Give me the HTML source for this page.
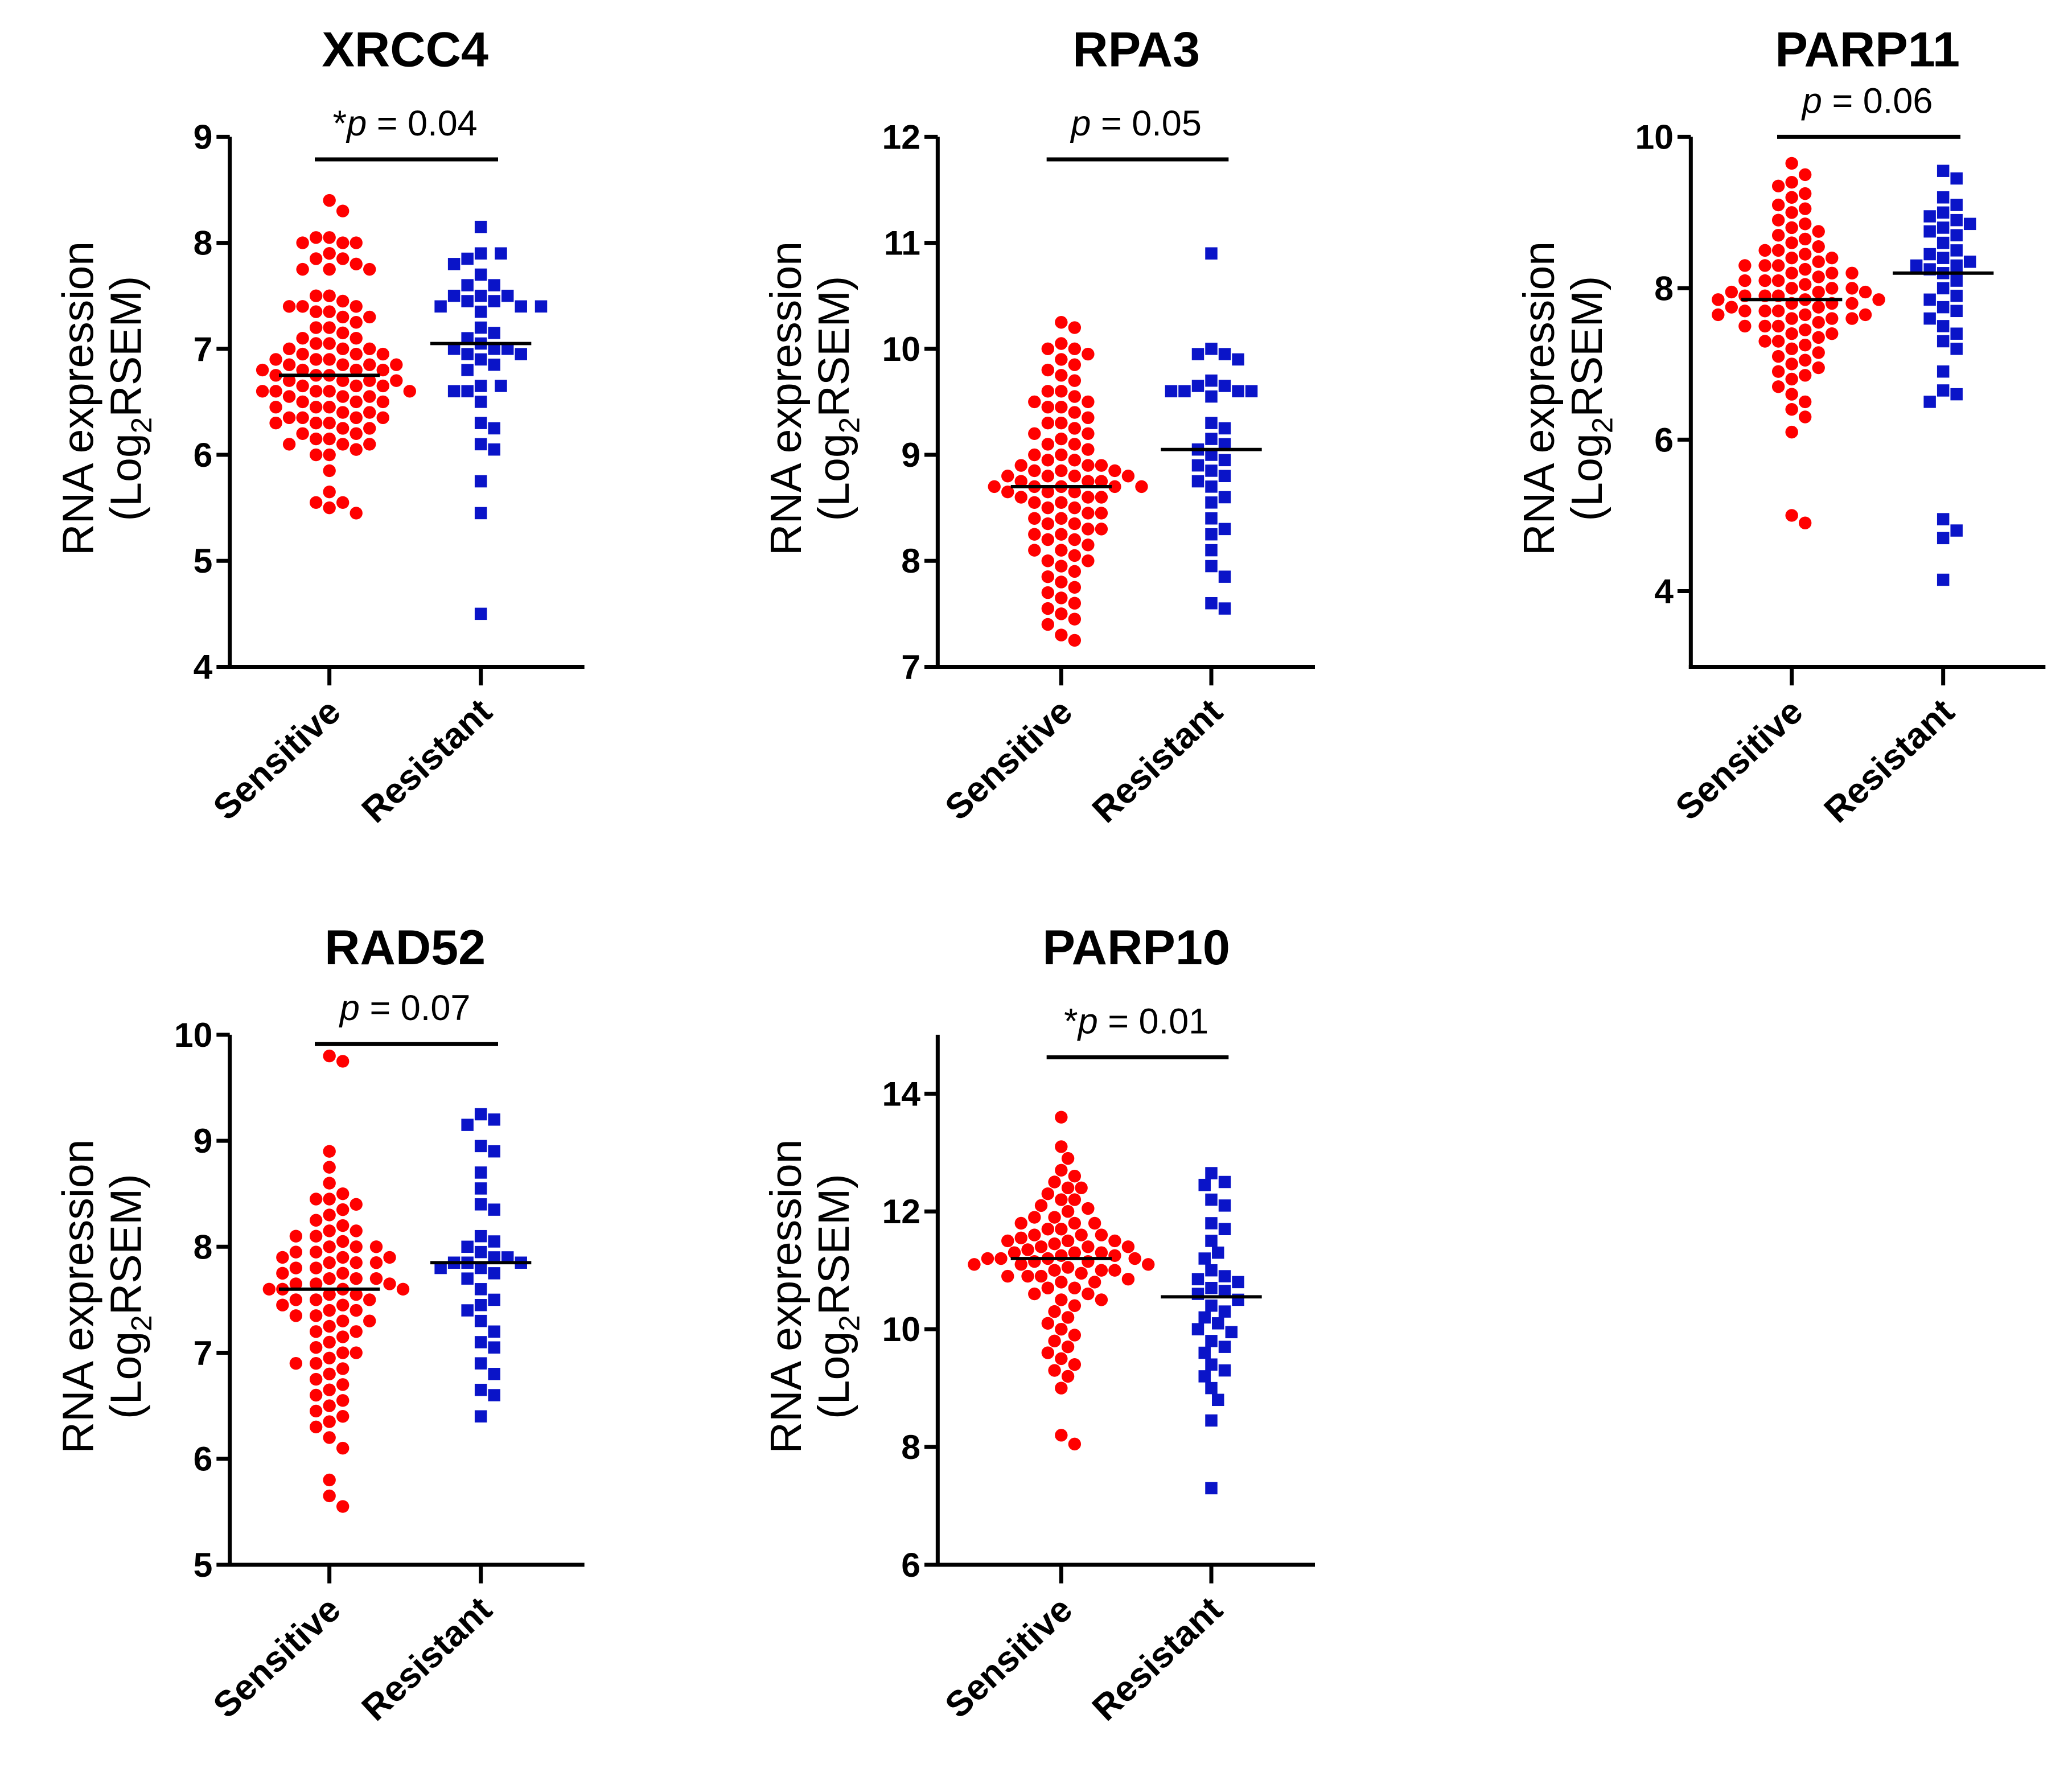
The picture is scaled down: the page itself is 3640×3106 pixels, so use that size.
<!DOCTYPE html>
<html><head><meta charset="utf-8"><style>
html,body{margin:0;padding:0;background:#fff;}
svg{display:block;}
text{font-family:"Liberation Sans",Arial,sans-serif;fill:#000;}
</style></head><body>
<svg id="fig" width="3640" height="3106" viewBox="0 0 1560 1331" preserveAspectRatio="none" xmlns="http://www.w3.org/2000/svg"></svg>
<script>
const xrcc4S=[8.4,8.3,8.05,8.05,8.0,8.0,8.0,7.9,7.85,7.85,7.8,7.75,7.75,7.75,7.5,7.5,7.45,7.4,7.4,7.4,7.35,7.35,7.3,7.3,7.25,7.2,7.2,7.15,7.1,7.1,7.05,7.0,7.0,6.95,6.95,6.9,6.9,6.85,6.85,6.85,6.8,6.8,6.8,6.8,6.75,6.75,6.7,6.7,6.7,6.65,6.65,6.6,6.6,6.6,6.6,6.55,6.55,6.5,6.5,6.45,6.45,6.4,6.4,6.35,6.35,6.35,6.35,6.3,6.3,6.3,6.25,6.2,6.2,6.15,6.1,6.1,6.1,6.05,6.0,6.0,5.85,5.65,5.55,5.55,5.5,5.45,6.9,6.75,6.65,6.5,6.45,7.0,6.55,6.25,6.15,6.85,7.05,6.95,6.7,6.6];
const xrcc4R=[8.15,7.9,7.9,7.85,7.8,7.7,7.6,7.6,7.5,7.5,7.5,7.45,7.45,7.4,7.4,7.4,7.35,7.2,7.15,7.1,7.05,7.0,7.0,7.0,6.95,6.95,6.9,6.85,6.8,6.65,6.65,6.6,6.6,6.5,6.3,6.25,6.1,6.05,5.75,5.45,4.5];
const rpa3S=[10.25,10.2,10.05,10.0,10.0,9.95,9.9,9.85,9.8,9.75,9.7,9.6,9.55,9.5,9.5,9.45,9.45,9.4,9.35,9.3,9.3,9.25,9.2,9.15,9.1,9.1,9.05,9.0,9.0,8.95,8.9,8.9,8.85,8.85,8.8,8.8,8.8,8.75,8.75,8.75,8.7,8.7,8.7,8.7,8.65,8.65,8.6,8.6,8.55,8.55,8.5,8.5,8.45,8.4,8.4,8.35,8.3,8.3,8.25,8.2,8.2,8.15,8.1,8.1,8.05,8.0,8.0,7.95,7.9,7.85,7.8,7.75,7.7,7.65,7.6,7.55,7.5,7.45,7.4,7.3,7.25,9.6,9.2,8.95,8.85,8.65,8.6,8.45,8.35,8.25,8.9,8.8,8.7];
const rpa3R=[10.9,10.0,9.95,9.95,9.9,9.7,9.65,9.65,9.6,9.6,9.6,9.6,9.55,9.3,9.25,9.15,9.1,9.05,9.0,8.95,8.9,8.85,8.8,8.75,8.7,8.6,8.55,8.4,8.3,8.25,8.1,7.95,7.85,7.6,7.55];
const parp11S=[9.65,9.5,9.4,9.35,9.25,9.2,9.1,9.05,9.0,8.9,8.85,8.8,8.75,8.7,8.65,8.6,8.55,8.5,8.5,8.45,8.4,8.4,8.35,8.3,8.3,8.25,8.2,8.2,8.15,8.1,8.1,8.05,8.0,8.0,7.95,7.95,7.9,7.9,7.85,7.85,7.8,7.8,7.8,7.75,7.75,7.7,7.7,7.65,7.65,7.6,7.6,7.55,7.5,7.5,7.45,7.4,7.4,7.35,7.3,7.25,7.2,7.15,7.1,7.05,7.0,6.95,6.9,6.85,6.8,6.7,6.6,6.5,6.4,6.3,6.1,5.0,4.9,8.0,7.9,7.7,7.6,8.1,8.3,7.5,7.3,7.85,7.95,8.2,7.65];
const parp11R=[9.55,9.45,9.2,9.1,9.0,8.95,8.9,8.85,8.8,8.75,8.7,8.6,8.5,8.45,8.4,8.35,8.3,8.3,8.25,8.2,8.1,8.0,7.9,7.85,7.75,7.7,7.6,7.5,7.4,7.3,7.2,6.9,6.65,6.6,6.5,4.95,4.8,4.7,4.15];
const rad52S=[9.8,9.75,8.9,8.75,8.6,8.5,8.45,8.45,8.4,8.35,8.3,8.25,8.2,8.15,8.1,8.1,8.05,8.0,8.0,7.95,7.95,7.9,7.9,7.85,7.85,7.8,7.8,7.75,7.75,7.7,7.7,7.65,7.65,7.6,7.6,7.6,7.55,7.55,7.5,7.5,7.45,7.45,7.4,7.4,7.35,7.3,7.3,7.25,7.2,7.15,7.1,7.05,7.0,6.95,6.9,6.85,6.8,6.75,6.7,6.65,6.6,6.55,6.5,6.45,6.4,6.35,6.3,6.2,6.1,5.8,5.65,5.55,8.0,7.85,7.7,7.6,7.5,7.9,7.65,7.35,8.15,7.0,7.2,6.9];
const rad52R=[9.25,9.2,9.15,8.95,8.9,8.7,8.55,8.4,8.35,8.1,8.05,8.0,7.95,7.9,7.9,7.85,7.85,7.85,7.8,7.8,7.75,7.7,7.6,7.5,7.45,7.4,7.3,7.2,7.1,7.05,6.9,6.8,6.65,6.6,6.4];
const parp10S=[13.6,13.1,12.9,12.7,12.6,12.5,12.4,12.3,12.2,12.1,12.05,12.0,11.9,11.9,11.8,11.8,11.7,11.7,11.6,11.6,11.55,11.5,11.5,11.45,11.4,11.4,11.35,11.3,11.3,11.25,11.25,11.2,11.2,11.2,11.15,11.15,11.1,11.1,11.05,11.0,11.0,10.95,10.9,10.9,10.85,10.8,10.8,10.7,10.7,10.6,10.5,10.5,10.4,10.3,10.2,10.1,10.0,9.9,9.8,9.7,9.6,9.5,9.4,9.3,9.2,9.0,8.2,8.05,11.3,11.2,11.1,11.0,11.4,11.5,10.9,10.6,11.6,11.8,12.2,12.4];
const parp10R=[12.65,12.5,12.45,12.2,12.1,11.8,11.7,11.5,11.3,11.2,11.0,10.9,10.85,10.8,10.7,10.65,10.6,10.5,10.4,10.3,10.2,10.1,10.0,9.95,9.8,9.7,9.6,9.4,9.3,9.2,9.0,8.8,8.45,7.3];
const groupLabels=["Sensitive","Resistant"];
const titles=["XRCC4","RPA3","PARP11","RAD52","PARP10"];
const pLabels=["0.04","0.05","0.06","0.07","0.01"];
const pStar=[true,false,false,false,true];
const ticks1=[4,5,6,7,8,9],ticks2=[7,8,9,10,11,12],ticks3=[4,6,8,10],ticks4=[5,6,7,8,9,10],ticks5=[6,8,10,12,14];

const NS="http://www.w3.org/2000/svg";
const svg=document.getElementById('fig');
function mk(tag,at,parent){const e=document.createElementNS(NS,tag);for(const k in at)e.setAttribute(k,at[k]);(parent||svg).appendChild(e);return e;}
function median(a){const s=[...a].sort((x,y)=>x-y);const n=s.length;return n%2?s[(n-1)/2]:(s[n/2-1]+s[n/2])/2;}
function swarm(vals,cx,yf,r){
  const placed=[];const out=[];const step=r*2.1;
  const order=vals.map((v,i)=>i).sort((a,b)=>vals[b]-vals[a]);
  for(const i of order){const y=yf(vals[i]);
    for(let k=0;k<80;k++){const off=(k%2?1:-1)*Math.ceil(k/2)*step*0.5; const x=cx+off;
      if(placed.every(p=>(p[0]-x)**2+(p[1]-y)**2>=(step)**2)){placed.push([x,y]);out.push([x,y]);break;}}
  }
  return out;
}
const panels=[
 {S:xrcc4S,R:xrcc4R,ax:173,o1:75,o2:189,yBot:502,yTop:103,vmin:4,vmax:9,ticks:ticks1,xEnd:440,bar:120,tY:50,ylab:300},
 {S:rpa3S,R:rpa3R,ax:706,o1:93,o2:206,yBot:502,yTop:103,vmin:7,vmax:12,ticks:ticks2,xEnd:990,bar:120,tY:50,ylab:300},
 {S:parp11S,R:parp11R,ax:1273,o1:76,o2:190,yBot:502,yTop:103,vmin:3,vmax:10,ticks:ticks3,xEnd:1540,bar:103,tY:50,ylab:300},
 {S:rad52S,R:rad52R,ax:173,o1:75,o2:189,yBot:1178,yTop:779,vmin:5,vmax:10,ticks:ticks4,xEnd:440,bar:786,tY:726,ylab:976},
 {S:parp10S,R:parp10R,ax:706,o1:93,o2:206,yBot:1178,yTop:779,vmin:6,vmax:15,ticks:ticks5,xEnd:990,bar:796,tY:726,ylab:976}
];
panels.forEach((P,pi)=>{
  const g=mk('g',{});
  
  
  const yf=v=>P.yBot-(v-P.vmin)/(P.vmax-P.vmin)*(P.yBot-P.yTop);
  const x1=P.ax+P.o1,x2=P.ax+P.o2,cen=(x1+x2)/2;
  const t=mk('text',{x:cen,y:P.tY,'text-anchor':'middle','font-size':37,'font-weight':'bold'},g);t.textContent=titles[pi];
  
  const axTop=(pi===4)?779:P.yTop;
  const ya=mk('line',{x1:P.ax,y1:axTop,x2:P.ax,y2:P.yBot+1.5,stroke:'#000','stroke-width':3},g);
  
  const xa=mk('line',{x1:P.ax-1.5,y1:P.yBot,x2:P.xEnd,y2:P.yBot,stroke:'#000','stroke-width':3},g);
  
  P.ticks.forEach(v=>{const y=yf(v);
    mk('line',{x1:P.ax-10,y1:y,x2:P.ax,y2:y,stroke:'#000','stroke-width':3},g);
    const tl=mk('text',{x:P.ax-13,y:y+9,'text-anchor':'end','font-size':26,'font-weight':'bold'},g);tl.textContent=v;
    });
  [x1,x2].forEach((x,i)=>{mk('line',{x1:x,y1:P.yBot,x2:x,y2:P.yBot+14,stroke:'#000','stroke-width':3},g);
    const xl=mk('text',{x:0,y:0,'text-anchor':'end','font-size':27,'font-weight':'bold',transform:`translate(${x+10},${P.yBot+36}) rotate(-43)`},g);
    xl.textContent=groupLabels[i];});
  const yl=mk('text',{'text-anchor':'middle','font-size':33,transform:`translate(${P.ax-103},${P.ylab}) rotate(-90)`},g);
  yl.textContent='RNA expression';
  const yl2=mk('text',{'text-anchor':'middle','font-size':33,transform:`translate(${P.ax-67},${P.ylab}) rotate(-90)`},g);
  yl2.innerHTML='(Log<tspan font-size="22" dy="8">2</tspan><tspan dy="-8">RSEM)</tspan>';
  
  const bl=mk('line',{x1:x1-11,y1:P.bar,x2:x2+13,y2:P.bar,stroke:'#000','stroke-width':3},g);
  
  const pt=mk('text',{x:cen,y:P.bar-18,'text-anchor':'middle','font-size':27},g);
  pt.innerHTML=(pStar[pi]?'*':'')+'<tspan font-style="italic">p</tspan> = '+pLabels[pi];
  
  swarm(P.S,x1,yf,4.8).forEach(([x,y])=>{const c=mk('circle',{cx:x,cy:y,r:4.8,fill:'#ff0000'},g);
    });
  swarm(P.R,x2,yf,4.8).forEach(([x,y])=>{const c=mk('rect',{x:x-4.6,y:y-4.6,width:9.2,height:9.2,fill:'#0a14c8'},g);
    });
  [[P.S,x1],[P.R,x2]].forEach(([a,x])=>{const m=yf(median(a));
    const ml=mk('line',{x1:x-38,y1:m,x2:x+38,y2:m,stroke:'#000','stroke-width':2.5},g);
    });
});
</script>
</body></html>
